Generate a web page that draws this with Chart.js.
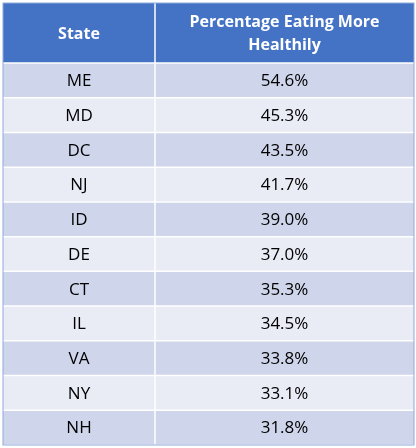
<!DOCTYPE html>
<html><head><meta charset="utf-8">
<script src="https://cdn.jsdelivr.net/npm/chart.js@4/dist/chart.umd.min.js"></script>
<style>html,body{margin:0;padding:0;background:#fff}#w{width:416px;height:448px}</style>
</head><body><div id="w"><canvas id="c"></canvas></div>
<script>
const headers = ["State", "Percentage Eating More\nHealthily"];
const states = ["ME","MD","DC","NJ","ID","DE","CT","IL","VA","NY","NH"];
const percentages = [54.6,45.3,43.5,41.7,39.0,37.0,35.3,34.5,33.8,33.1,31.8];

const tablePlugin = {
  id: 'table',
  beforeDatasetsDraw(chart) {
    const ctx = chart.ctx, y = chart.scales.y, a = chart.chartArea;
    const split = a.left + 152;
    const rowH = Math.abs(y.getPixelForValue(1) - y.getPixelForValue(0));
    const F = '"Open Sans","Liberation Sans",sans-serif';
    ctx.save();
    // header
    const hTop = a.top - 60;
    ctx.fillStyle = '#4472C4';
    ctx.fillRect(a.left, hTop, a.right - a.left, 60);
    ctx.fillStyle = '#fff'; ctx.font = 'bold 16px ' + F;
    ctx.textAlign = 'center'; ctx.textBaseline = 'middle';
    ctx.fillText(headers[0], (a.left + split) / 2, hTop + 31);
    const hl = headers[1].split('\n');
    hl.forEach((t, i) => ctx.fillText(t, (split + a.right) / 2, hTop + 19 + i * 23));
    states.forEach((s, i) => {
      const cy = y.getPixelForValue(i);
      ctx.fillStyle = i % 2 === 0 ? '#CFD5EA' : '#E9EBF5';
      ctx.fillRect(a.left, cy - rowH / 2, a.right - a.left, rowH);
      ctx.fillStyle = '#000'; ctx.font = '17px ' + F;
      ctx.fillText(s, (a.left + split) / 2, cy + 1);
      ctx.fillText(percentages[i].toFixed(1) + '%', (split + a.right) / 2, cy + 1);
    });
    ctx.strokeStyle = '#fff'; ctx.lineWidth = 1.5;
    for (let i = 0; i <= states.length; i++) {
      const yy = y.getPixelForValue(i) - rowH / 2;
      ctx.beginPath(); ctx.moveTo(a.left, yy); ctx.lineTo(a.right, yy); ctx.stroke();
    }
    ctx.beginPath(); ctx.moveTo(split, hTop); ctx.lineTo(split, a.bottom); ctx.stroke();
    ctx.strokeStyle = '#8EA9DB'; ctx.lineWidth = 1;
    ctx.strokeRect(a.left, hTop, a.right - a.left, a.bottom - hTop);
    ctx.restore();
  }
};

new Chart(document.getElementById('c'), {
  type: 'bar',
  data: { labels: states, datasets: [{ data: percentages, backgroundColor: 'rgba(0,0,0,0)' }] },
  options: {
    indexAxis: 'y', responsive: true, maintainAspectRatio: false, animation: false,
    layout: { padding: { top: 63, bottom: 3, left: 3, right: 2 } },
    plugins: { legend: { display: false }, tooltip: { enabled: false } },
    scales: { x: { display: false, min: 0, max: 100 }, y: { display: false } }
  },
  plugins: [tablePlugin]
});
</script></body></html>
